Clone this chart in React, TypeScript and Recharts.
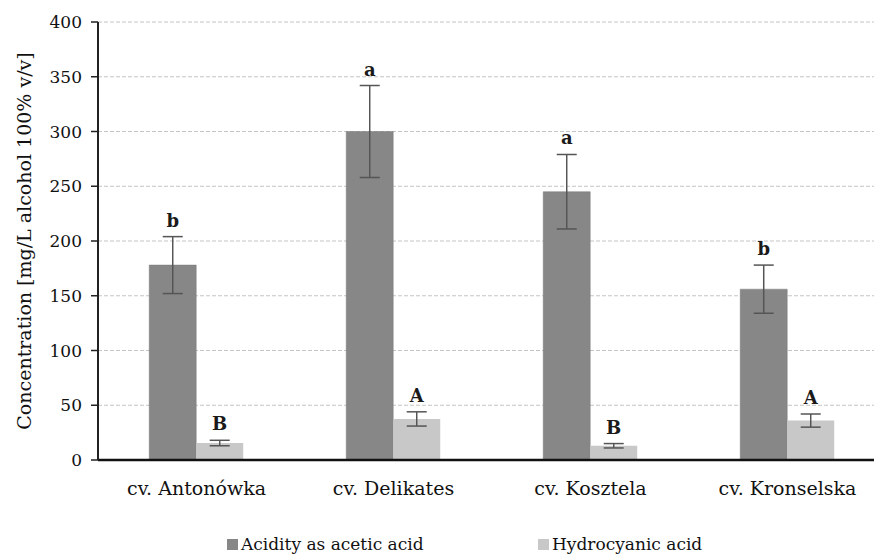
import { Bar, BarChart, CartesianGrid, ErrorBar, LabelList, XAxis, YAxis } from "recharts";

const CULTIVARS = ["cv. Antonówka", "cv. Delikates", "cv. Kosztela", "cv. Kronselska"];
const ACIDITY = [178, 300, 245, 156];
const ACIDITY_ERR = [26, 42, 34, 22];
const ACIDITY_LETTERS = ["b", "a", "a", "b"];
const HCN = [15.5, 37.5, 13, 36];
const HCN_ERR = [2.5, 6.5, 2, 6];
const HCN_LETTERS = ["B", "A", "B", "A"];
const Y_TICKS = [0, 50, 100, 150, 200, 250, 300, 350, 400];
const SERIES_NAMES = ["Acidity as acetic acid", "Hydrocyanic acid"];

const FONT = "'DejaVu Serif', 'Liberation Serif', serif";
const DARK = "#878787";
const LIGHT = "#c8c8c8";

const data = CULTIVARS.map((name, i) => ({
  name,
  acidity: ACIDITY[i],
  acidityErr: ACIDITY_ERR[i],
  hcn: HCN[i],
  hcnErr: HCN_ERR[i],
}));

// letter sits above the top whisker; px per unit taken from the bar itself
const letterLabel = (errs: number[], values: number[], letters: string[]) => (props: any) => {
  const { x, y, width, height, index } = props;
  const pxPerUnit = height / values[index];
  const top = y - errs[index] * pxPerUnit;
  return (
    <text
      x={x + width / 2}
      y={top - 10}
      textAnchor="middle"
      fontFamily={FONT}
      fontSize={18}
      fontWeight="bold"
      fill="#1a1a1a"
    >
      {letters[index]}
    </text>
  );
};

// legend drawn below the chart, same serif as the axes
function LegendBox() {
  const items = [
    { color: DARK, label: SERIES_NAMES[0], x: 227 },
    { color: LIGHT, label: SERIES_NAMES[1], x: 538 },
  ];
  return (
    <svg width={874} height={22} style={{ position: "absolute", left: 0, top: 534 }}>
      {items.map((it) => (
        <g key={it.label}>
          <rect x={it.x} y={5} width={11} height={11} fill={it.color} />
          <text x={it.x + 14} y={16} fontFamily={FONT} fontSize={17} fill="#111">
            {it.label}
          </text>
        </g>
      ))}
    </svg>
  );
}

export default function App() {
  return (
    <div style={{ position: "absolute", left: 0, top: 0, width: 874, height: 555, overflow: "hidden", background: "#fff" }}>
      <BarChart
        width={874}
        height={555}
        data={data}
        margin={{ top: 22, right: -12, left: 0, bottom: 55 }}
        barCategoryGap="26%"
        barGap={0}
      >
        <CartesianGrid vertical={false} stroke="#c4c4c4" strokeDasharray="4 2" />
        <XAxis
          dataKey="name"
          height={40}
          axisLine={{ stroke: "#111", strokeWidth: 2.5 }}
          tickLine={false}
          tick={{ fill: "#111", fontSize: 19, fontFamily: FONT }}
          tickMargin={16}
        />
        <YAxis
          width={98}
          domain={[0, 400]}
          ticks={Y_TICKS}
          interval={0}
          axisLine={{ stroke: "#222", strokeWidth: 2 }}
          tickLine={{ stroke: "#222", strokeWidth: 1.5 }}
          tickSize={7}
          tickMargin={9}
          tick={{ fill: "#111", fontSize: 17, fontFamily: FONT }}
          label={{
            value: "Concentration  [mg/L alcohol 100% v/v]",
            angle: -90,
            position: "insideLeft",
            offset: 24,
            style: { textAnchor: "middle", fontFamily: FONT, fontSize: 19, fill: "#111" },
          }}
        />
        <Bar dataKey="acidity" name={SERIES_NAMES[0]} fill={DARK} stroke="#7a7a7a" strokeWidth={0.5} isAnimationActive={false}>
          <ErrorBar dataKey="acidityErr" width={10} stroke="#555" strokeWidth={1.5} />
          <LabelList content={letterLabel(ACIDITY_ERR, ACIDITY, ACIDITY_LETTERS)} />
        </Bar>
        <Bar dataKey="hcn" name={SERIES_NAMES[1]} fill={LIGHT} isAnimationActive={false}>
          <ErrorBar dataKey="hcnErr" width={10} stroke="#555" strokeWidth={1.5} />
          <LabelList content={letterLabel(HCN_ERR, HCN, HCN_LETTERS)} />
        </Bar>
      </BarChart>
      <LegendBox />
    </div>
  );
}
